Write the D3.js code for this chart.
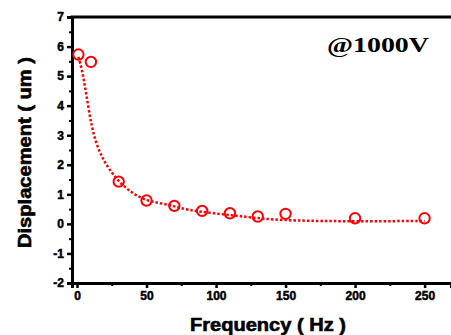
<!DOCTYPE html>
<html>
<head>
<meta charset="utf-8">
<script src="https://cdn.jsdelivr.net/npm/d3@7"></script>
<style>
  body { margin: 0; background: #fff; }
  svg { display: block; }
</style>
</head>
<body>
<div id="chart"></div>
<script>
// measured points
const freqs = [1, 10, 30, 50, 70, 90, 110, 130, 150, 200, 250];
const displacement = [5.73, 5.48, 1.43, 0.79, 0.61, 0.44, 0.36, 0.25, 0.34, 0.19, 0.19];

// fitted curve
const fitFreqs = [1, 3.4, 5.8, 8.1, 10.6, 13.7, 17.8, 22.6, 30, 39.4, 50, 59.8, 69.4, 79, 98, 120, 139, 175, 223, 250];
const fitValues = [5.65, 5.26, 4.64, 3.96, 3.29, 2.73, 2.27, 1.88, 1.43, 1.04, 0.79, 0.70, 0.61, 0.47, 0.36, 0.25, 0.14, 0.09, 0.09, 0.1];

const xTicks = [0, 50, 100, 150, 200, 250];
const xMinor = [25, 75, 125, 175, 225];
const yTicks = [-2, -1, 0, 1, 2, 3, 4, 5, 6, 7];
const yMinor = [-1.5, -0.5, 0.5, 1.5, 2.5, 3.5, 4.5, 5.5, 6.5];

const width = 451, height = 335;
const margin = { top: 17, right: 0, bottom: 52, left: 72 };

const svg = d3.select("#chart")
  .append("svg")
  .attr("width", width)
  .attr("height", height);

const x = d3.scaleLinear()
  .domain([-3.6, 269])
  .range([margin.left, width - margin.right]);

const y = d3.scaleLinear()
  .domain([-2, 7])
  .range([height - margin.bottom, margin.top]);

const tickFont = "'Liberation Sans', Arial, sans-serif";
const plain = d => String(d);

function styleTicks(sel) {
  sel.style("font-family", tickFont)
    .style("font-weight", "bold")
    .style("font-size", "12px")
    .attr("fill", "#000")
    .attr("stroke", "#000")
    .attr("stroke-width", 0.5);
}

// x axis
const xAxis = svg.append("g")
  .attr("transform", `translate(0, ${y(-2)})`)
  .call(d3.axisBottom(x).tickValues(xTicks).tickSize(5).tickPadding(3).tickFormat(plain));
xAxis.select(".domain").attr("stroke-width", 3);
xAxis.selectAll(".tick line").attr("stroke-width", 2.5);
styleTicks(xAxis.selectAll("text"));

svg.append("g")
  .attr("transform", `translate(0, ${y(-2)})`)
  .call(d3.axisBottom(x).tickValues(xMinor).tickSize(3).tickFormat(""))
  .call(g => g.select(".domain").remove())
  .selectAll(".tick line").attr("stroke-width", 2);

// y axis
const yAxis = svg.append("g")
  .attr("transform", `translate(${x(-3.6)}, 0)`)
  .call(d3.axisLeft(y).tickValues(yTicks).tickSize(5).tickPadding(3).tickFormat(plain));
yAxis.select(".domain").attr("stroke-width", 3);
yAxis.selectAll(".tick line").attr("stroke-width", 2.5);
styleTicks(yAxis.selectAll("text"));

svg.append("g")
  .attr("transform", `translate(${x(-3.6)}, 0)`)
  .call(d3.axisLeft(y).tickValues(yMinor).tickSize(3).tickFormat(""))
  .call(g => g.select(".domain").remove())
  .selectAll(".tick line").attr("stroke-width", 2);

// top frame line
svg.append("line")
  .attr("x1", x(-3.6) - 1.5).attr("x2", width)
  .attr("y1", y(7)).attr("y2", y(7))
  .attr("stroke", "#000").attr("stroke-width", 3);

// fit curve
const fitData = fitFreqs.map((f, i) => ({ f: f, v: fitValues[i] }));
svg.append("path")
  .datum(fitData)
  .attr("fill", "none")
  .attr("stroke", "#ff0000")
  .attr("stroke-width", 2.5)
  .attr("stroke-dasharray", "2.5,2")
  .attr("d", d3.line().x(d => x(d.f)).y(d => y(d.v)).curve(d3.curveBasis));

// points
const pts = freqs.map((f, i) => ({ f: f, v: displacement[i] }));
svg.selectAll("circle.pt")
  .data(pts)
  .enter()
  .append("circle")
  .attr("class", "pt")
  .attr("cx", d => x(d.f))
  .attr("cy", d => y(d.v))
  .attr("r", 5.2)
  .attr("fill", "none")
  .attr("stroke", "#ff0000")
  .attr("stroke-width", 2);

// axis titles
svg.append("text")
  .attr("x", 190).attr("y", 331)
  .attr("textLength", 156).attr("lengthAdjust", "spacingAndGlyphs")
  .attr("stroke", "#000").attr("stroke-width", 0.6)
  .style("font-family", tickFont).style("font-weight", "bold").style("font-size", "18px")
  .text("Frequency ( Hz )");

svg.append("text")
  .attr("transform", "translate(31, 248) rotate(-90)")
  .attr("x", 0).attr("y", 0)
  .attr("textLength", 191).attr("lengthAdjust", "spacingAndGlyphs")
  .attr("stroke", "#000").attr("stroke-width", 0.6)
  .style("font-family", tickFont).style("font-weight", "bold").style("font-size", "18px")
  .text("Displacement ( um )");

svg.append("text")
  .attr("x", 327).attr("y", 52)
  .attr("textLength", 102).attr("lengthAdjust", "spacingAndGlyphs")
  .style("font-family", "'Liberation Serif', 'Times New Roman', serif")
  .style("font-weight", "bold").style("font-size", "21px")
  .text("@1000V");
</script>
</body>
</html>
